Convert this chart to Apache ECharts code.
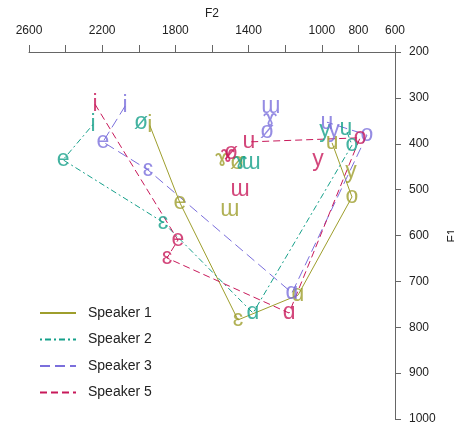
<!DOCTYPE html>
<html><head><meta charset="utf-8">
<script src="https://cdn.jsdelivr.net/npm/echarts@6/dist/echarts.min.js"></script>
<style>html,body{margin:0;padding:0;background:#fff}#c{width:454px;height:425px}</style>
</head><body><div id="c"></div>
<script>
const vowels = ['i','e','ɛ','ɑ','o','u','y','ø','ɯ','ɤ'];
const polygonCount = 6; // i e ɛ ɑ o u are joined by lines
const speakers = ['Speaker 1','Speaker 2','Speaker 3','Speaker 5'];
const s1F2 = [1940,1775,1458,1130,835,944,840,1463,1502,1545];
const s1F1 = [360,529,784,730,516,398,461,442,544,435];
const s2F2 = [2250,2414,1868,1376,835,868,983,1988,1387,1447];
const s2F1 = [358,435,571,769,403,368,372,353,442,442];
const s3F2 = [2075,2196,1950,1163,753,972,933,1299,1278,1283];
const s3F1 = [318,396,457,725,381,353,372,374,320,348];
const s5F2 = [2239,1786,1846,1179,791,1398,1021,1496,1447,1513];
const s5F1 = [314,610,649,769,387,396,434,420,501,427];
const xTickLabels = [2600,2200,1800,1400,1000,800,600];

const F2s = [s1F2,s2F2,s3F2,s5F2];
const F1s = [s1F1,s2F1,s3F1,s5F1];
const colors = ['#9e9e2c','#15a08a','#7b6fdc','#c8195a'];
const dashes = ['solid',[2,3,6,3],[10,5],[7,4]];
const FONT = 'Liberation Sans, Arial, DejaVu Sans, sans-serif';

const series = [];
speakers.forEach((name,k)=>{
  const pts = [];
  for(let j=0;j<polygonCount;j++) pts.push([F2s[k][j],F1s[k][j]]);
  series.push({
    name:name, type:'line', data:pts, symbol:'none', silent:true,
    lineStyle:{color:colors[k], width:1, type:dashes[k]},
    itemStyle:{color:colors[k]}, z:2
  });
});
speakers.forEach((name,k)=>{
  const pts = vowels.map((v,j)=>({name:v, value:[F2s[k][j],F1s[k][j]]}));
  series.push({
    name:name+' labels', type:'scatter', data:pts, symbol:'circle', symbolSize:1,
    itemStyle:{color:'transparent'}, silent:true, z:3,
    label:{show:true, position:'inside', formatter:p=>p.name, color:colors[k],
      fontSize:23, fontFamily:FONT, align:'center', verticalAlign:'middle'}
  });
});

const chart = echarts.init(document.getElementById('c'));
chart.setOption({
  backgroundColor:'#fff',
  animation:false,
  grid:{left:29, right:59, top:52, bottom:6, containLabel:false, outerBoundsMode:'none'},
  legend:{
    data:speakers, orient:'vertical', left:34, top:301, padding:5,
    itemWidth:36, itemHeight:14, itemGap:12.5,
    itemStyle:{opacity:0, color:'transparent', borderWidth:0},
    textStyle:{fontSize:14, color:'#222', fontFamily:FONT, padding:[0,0,0,7]},
    selectedMode:false
  },
  xAxis:{
    type:'value', position:'top', inverse:true, min:600, max:2600, interval:200,
    name:'F2', nameLocation:'middle', nameGap:30,
    nameTextStyle:{fontSize:12, color:'#222', fontFamily:FONT},
    axisLine:{show:true, lineStyle:{color:'#666', width:1}},
    axisTick:{show:true, length:7, lineStyle:{color:'#666'}},
    axisLabel:{fontSize:12, color:'#222', fontFamily:FONT, margin:15,
      formatter:v=> xTickLabels.indexOf(v)>=0 ? String(v) : ''},
    splitLine:{show:false}
  },
  yAxis:{
    type:'value', position:'right', inverse:true, min:200, max:1000, interval:100,
    name:'F1', nameLocation:'middle', nameGap:46, nameRotate:90,
    nameTextStyle:{fontSize:12, color:'#222', fontFamily:FONT},
    axisLine:{show:true, lineStyle:{color:'#666', width:1}},
    axisTick:{show:true, length:6, lineStyle:{color:'#666'}},
    axisLabel:{fontSize:12, color:'#222', fontFamily:FONT, margin:14, formatter:v=>String(v)},
    splitLine:{show:false}
  },
  series:series
});
</script></body></html>
